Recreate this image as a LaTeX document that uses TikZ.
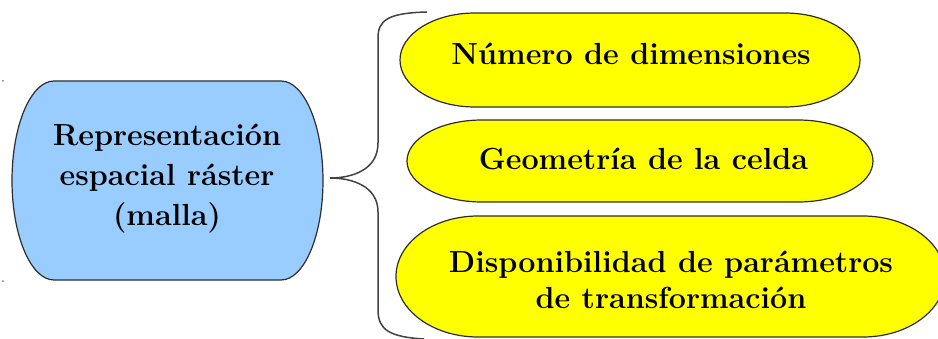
\documentclass[tikz,border=0pt]{standalone}
\usepackage{tikz}
\definecolor{rasterblue}{RGB}{153,204,255}
\definecolor{celdayellow}{RGB}{255,255,0}
\definecolor{outline}{RGB}{45,45,45}

\begin{document}
\begin{tikzpicture}[x=1pt, y=1pt,
	blob/.style = {draw = outline, line width = 1.2pt},
	label/.style = {font = \fontsize{30.5}{40}\selectfont\bfseries, align = center, inner sep = 0pt},
	brace/.style = {draw = outline!90, line width = 1.5pt}]
	\useasboundingbox (0,0) rectangle (938,338);
	% shapes
	\filldraw[blob, fill = rasterblue] (54,257) -- (281,257) arc[start angle = 90, end angle = -90, x radius = 42, y radius = 99.5] -- (54,58) arc[start angle = 270, end angle = 90, x radius = 42, y radius = 99.5] -- cycle;
	\filldraw[blob, fill = celdayellow] (475,325) -- (785,325) arc[start angle = 90, end angle = -90, x radius = 75, y radius = 47] -- (475,231) arc[start angle = 270, end angle = 90, x radius = 75, y radius = 47] -- cycle;
	\filldraw[blob, fill = celdayellow] (482,218) -- (798,218) arc[start angle = 90, end angle = -90, x radius = 75, y radius = 41] -- (482,136) arc[start angle = 270, end angle = 90, x radius = 75, y radius = 41] -- cycle;
	\filldraw[blob, fill = celdayellow] (478,122) -- (863,122) arc[start angle = 90, end angle = -90, x radius = 82, y radius = 60.5] -- (478,1) arc[start angle = 270, end angle = 90, x radius = 82, y radius = 60.5] -- cycle;
	% texts
	\node[label] (raster) at (167,159) {Representación\\espacial ráster\\(malla)};
	\node[label, anchor = base] (dimensiones) at (631,273) {Número de dimensiones};
	\node[label, anchor = base] (geometria) at (643.5,168) {Geometría de la celda};
	\node[label, font = \fontsize{30.5}{36}\selectfont\bfseries] (parametros) at (671,58) {Disponibilidad de parámetros\\de transformación};
	% brace
	\coordinate (brtop) at (427,326);
	\coordinate (brtip) at (330,160);
	\coordinate (brbot) at (424,-1);
	\draw[brace] (brtop) .. controls (388,325) and (378,318) .. (378,300) -- (378,195) .. controls (378,168) and (352,160) .. (brtip) .. controls (352,160) and (378,152) .. (378,126) -- (378,28) .. controls (378,8) and (390,1) .. (brbot);
	% dots
	\fill[gray] (3,257) circle (1);
	\fill[gray] (3,57) circle (1);
\end{tikzpicture}
\end{document}
